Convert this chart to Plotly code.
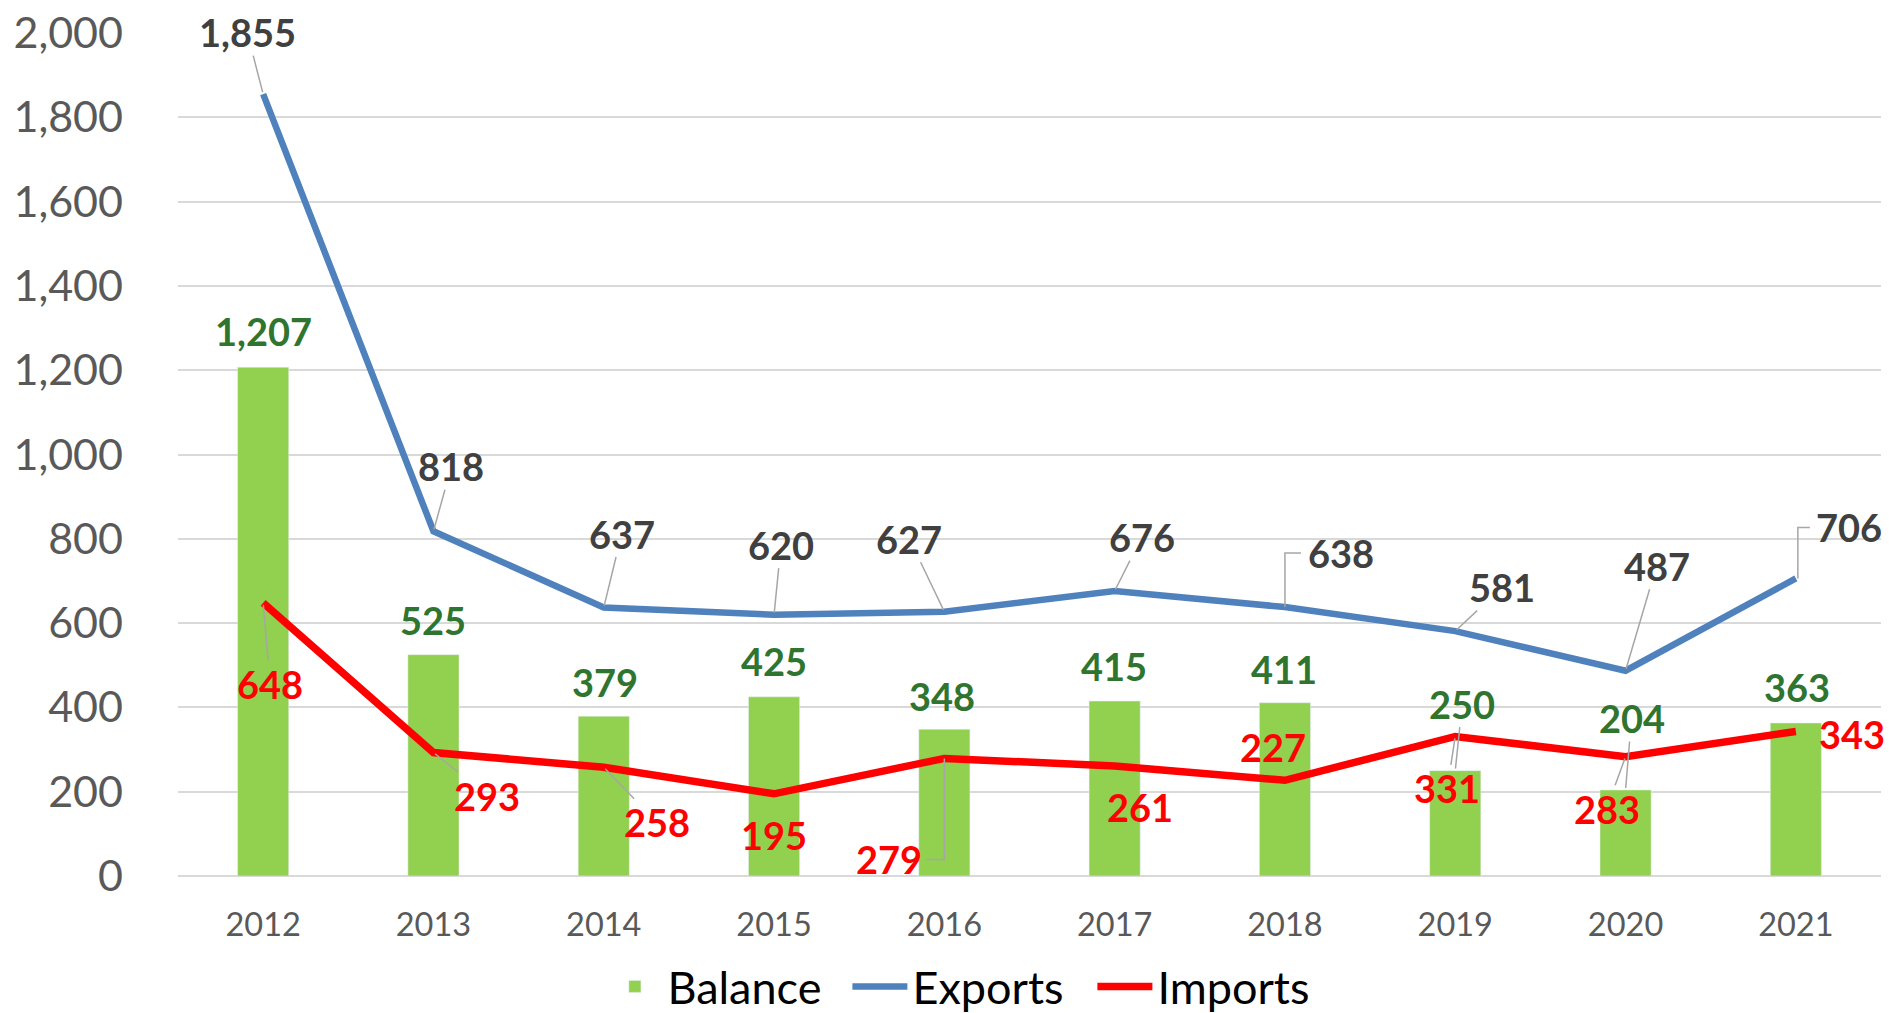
import plotly.graph_objects as go

# ---- data ----
years = ["2012", "2013", "2014", "2015", "2016", "2017", "2018", "2019", "2020", "2021"]
balance = [1207, 525, 379, 425, 348, 415, 411, 250, 204, 363]
exports = [1855, 818, 637, 620, 627, 676, 638, 581, 487, 706]
imports = [648, 293, 258, 195, 279, 261, 227, 331, 283, 343]
y_ticks = [0, 200, 400, 600, 800, 1000, 1200, 1400, 1600, 1800, 2000]

# ---- label placement: (dx, dy pixel offset of label centre, leader style) ----
# leader style: None = no line, "s" = straight leader, path string = elbow leader (pixels, y up)
bal_off = [(0, -36, None), (0, -35, None), (1, -34, None), (0, -36, None), (-2, -33, None),
           (-1, -35, None), (-1, -34, None), (7, -67, "s"), (6, -72, "s"), (1, -36, None)]
exp_off = [(-16, -62, "s"), (18, -65, "s"), (18, -74, "s"), (7, -70, "s"), (-35, -73, "s"),
           (27, -54, "s"), (56, -54, "M0,0 V54 H16"), (47, -44, "s"), (31, -105, "s"),
           (53, -51, "M2,0 V51 H14")]
imp_off = [(7, 81, "s"), (54, 43, "s"), (53, 55, "s"), (0, 41, None), (-55, 101, "M0,0 V-101 H-18"),
           (25, 41, None), (-12, -33, None), (-8, 52, "s"), (-19, 52, "s"), (56, 3, None)]

FONT = "Lato"
GREEN_BAR = "#92D050"
GREEN_TXT = "#2F7530"
BLUE = "#4F81BD"
RED = "#FF0000"
GRAY_TXT = "#404040"
LEADER = "#A6A6A6"

fig = go.Figure()
fig.add_trace(go.Bar(x=years, y=balance, name="Balance", marker_color=GREEN_BAR))
fig.add_trace(go.Scatter(x=years, y=exports, name="Exports", mode="lines",
                         line=dict(color=BLUE, width=6.5)))
fig.add_trace(go.Scatter(x=years, y=imports, name="Imports", mode="lines",
                         line=dict(color=RED, width=7.5)))

def add_labels(values, offsets, color):
    for i, (v, (dx, dy, leader)) in enumerate(zip(values, offsets)):
        common = dict(x=i, y=v, text=f"{v:,}",
                      font=dict(family=FONT, size=38, color=color, weight="bold"))
        if leader == "s":
            fig.add_annotation(**common, showarrow=True, ax=dx, ay=dy, arrowhead=0,
                               arrowwidth=1.5, arrowcolor=LEADER, standoff=2, borderpad=0)
        else:
            fig.add_annotation(**common, showarrow=False, xshift=dx, yshift=-dy)
            if leader:
                fig.add_shape(type="path", xref="x", yref="y",
                              xsizemode="pixel", ysizemode="pixel", xanchor=i, yanchor=v,
                              path=leader, line=dict(color=LEADER, width=1.5))

add_labels(balance, bal_off, GREEN_TXT)
add_labels(exports, exp_off, GRAY_TXT)
add_labels(imports, imp_off, RED)

fig.update_layout(
    width=1889, height=1013,
    margin=dict(l=178, r=8, t=33, b=137, autoexpand=False),
    plot_bgcolor="white", paper_bgcolor="white",
    bargap=0.7,
    font=dict(family=FONT),
    showlegend=True,
    legend=dict(orientation="h", x=0.465, xanchor="center",
                yref="container", y=0.026, yanchor="middle",
                font=dict(family=FONT, size=45, color="black"), itemwidth=55,
                entrywidth=175, traceorder="normal"),
    xaxis=dict(type="category", range=[-0.5, len(years) - 0.5], autorange=False,
               showgrid=False, showline=False, ticks="",
               tickfont=dict(family=FONT, size=32.5, color="#595959"),
               ticklabelstandoff=26),
    yaxis=dict(range=[0, 2000], autorange=False, tickvals=y_ticks, tickformat=",d",
               showgrid=True, gridcolor="#D9D9D9", gridwidth=2,
               zeroline=True, zerolinecolor="#D9D9D9", zerolinewidth=2,
               showline=False, ticks="",
               tickfont=dict(family=FONT, size=43, color="#595959"),
               ticklabelstandoff=54),
)

fig.write_html("out.html", config={"displayModeBar": False},
               post_script="document.body.style.margin='0';")
